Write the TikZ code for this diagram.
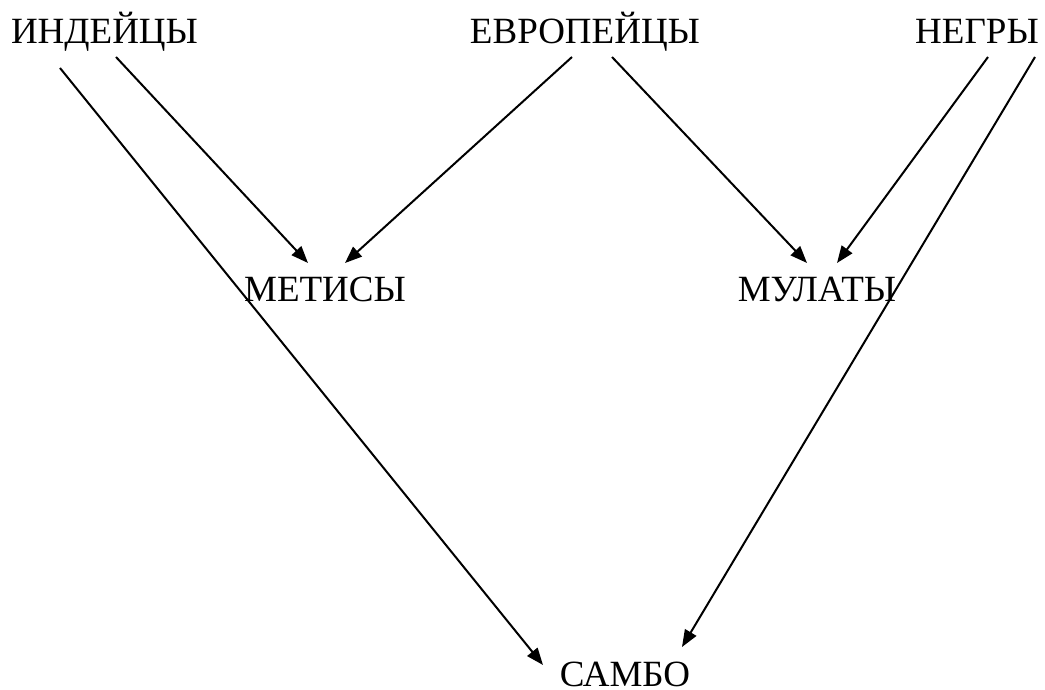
\documentclass[tikz,border=0pt]{standalone}
\usepackage{fontspec}
\setmainfont{Liberation Serif}
\usetikzlibrary{arrows.meta}
\begin{document}
\begin{tikzpicture}[x=1pt,y=-1pt,
  lbl/.style={inner sep=0pt,anchor=base,font=\fontsize{37}{40}\selectfont},
  conn/.style={line width=2pt,-{Triangle[length=17pt,width=13pt]}}]
\useasboundingbox (0,0) rectangle (1045,690);
\node[lbl] (ind) at (104.5,44) {ИНДЕЙЦЫ};
\node[lbl] (eur) at (585,44) {ЕВРОПЕЙЦЫ};
\node[lbl] (neg) at (977,44) {НЕГРЫ};
\node[lbl] (met) at (325,301) {МЕТИСЫ};
\node[lbl] (mul) at (817,301) {МУЛАТЫ};
\node[lbl] (sam) at (625,686) {САМБО};
\draw[conn] ([shift={(-44.5,24)}]ind.base) -- ([shift={(-82,-21)}]sam.base);
\draw[conn] ([shift={(11.5,13)}]ind.base) -- ([shift={(-17,-38)}]met.base);
\draw[conn] ([shift={(-13,13)}]eur.base) -- ([shift={(20,-38)}]met.base);
\draw[conn] ([shift={(27,13)}]eur.base) -- ([shift={(-10,-38)}]mul.base);
\draw[conn] ([shift={(11,13)}]neg.base) -- ([shift={(20,-38)}]mul.base);
\draw[conn] ([shift={(58,13)}]neg.base) -- ([shift={(57,-39)}]sam.base);
\end{tikzpicture}
\end{document}
